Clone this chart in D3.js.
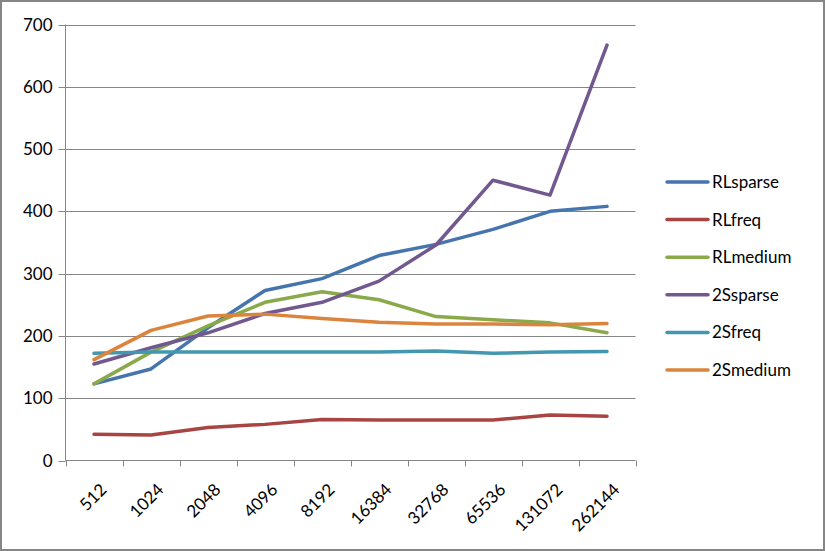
<!DOCTYPE html>
<html><head><meta charset="utf-8">
<script src="https://cdn.jsdelivr.net/npm/d3@7"></script>
<style>body{margin:0;background:#fff}svg{display:block}</style>
</head><body>
<svg id="c" width="825" height="551"></svg>
<script>
const categories = ["512","1024","2048","4096","8192","16384","32768","65536","131072","262144"];
const seriesNames = ["RLsparse","RLfreq","RLmedium","2Ssparse","2Sfreq","2Smedium"];
const RLsparse = [123,147,213,273,292,329,347,371,400,408];
const RLfreq   = [42,41,53,58,66,65,65,65,73,71];
const RLmedium = [123,174,216,254,271,258,231,226,221,205];
const Ssparse2 = [155,181,205,236,254,288,346,450,426,667];
const Sfreq2   = [172,174,174,174,174,174,176,172,174,175];
const Smedium2 = [162,209,232,235,228,222,219,219,218,220];
const yTicks = [0,100,200,300,400,500,600,700];
const colors = ["#4675AE","#A84442","#8AA94B","#71588F","#4198AF","#DB843D"];
const seriesValues = [RLsparse,RLfreq,RLmedium,Ssparse2,Sfreq2,Smedium2];

const svg = d3.select("#c");
const font = "Lato, 'Open Sans', sans-serif";
svg.append("rect").attr("x",1).attr("y",1).attr("width",823).attr("height",549)
  .attr("fill","#fff").attr("stroke","#868686").attr("stroke-width",2);

const L=65.5, R=635.5, T=24.5, B=460.5;
const x = d3.scaleBand().domain(categories).range([L,R]);
const y = d3.scaleLinear().domain([0,700]).range([B,T]);

// gridlines
svg.append("g").selectAll("line").data(yTicks.filter(d=>d>0)).join("line")
  .attr("x1",L).attr("x2",R).attr("y1",d=>Math.round(y(d))+0.5).attr("y2",d=>Math.round(y(d))+0.5)
  .attr("stroke","#868686").attr("stroke-width",1);

// y axis
const ya = svg.append("g").attr("transform",`translate(${L},0)`)
  .call(d3.axisLeft(y).tickValues(yTicks).tickSize(7).tickPadding(6).tickFormat(d3.format("d")));
ya.select(".domain").attr("stroke","#868686").attr("d",`M0,${T}V${B}`);
ya.selectAll(".tick line").attr("stroke","#868686");
ya.selectAll(".tick").attr("transform",d=>`translate(0,${Math.round(y(d))+0.5})`);
ya.selectAll("text").attr("font-family",font).attr("font-size",17).attr("fill","#000");

// x axis
const xa = svg.append("g").attr("transform",`translate(0,${B})`);
xa.append("line").attr("x1",L).attr("x2",R).attr("stroke","#868686");
const bounds = categories.map(c=>x(c)).concat([R]);
xa.selectAll("line.t").data(bounds).join("line").attr("class","t")
  .attr("x1",d=>Math.round(d)+0.5).attr("x2",d=>Math.round(d)+0.5).attr("y1",0).attr("y2",6).attr("stroke","#868686");
xa.selectAll("text").data(categories).join("text")
  .attr("transform",d=>`translate(${x(d)+x.bandwidth()/2+9.5},${26}) rotate(-45)`)
  .attr("text-anchor","end").attr("dy","0.35em")
  .attr("font-family",font).attr("font-size",17).attr("fill","#000").text(d=>d);

// lines
const line = d3.line().x((d,i)=>x(categories[i])+x.bandwidth()/2).y(d=>y(d));
svg.append("g").selectAll("path").data(seriesValues).join("path")
  .attr("d",line).attr("fill","none").attr("stroke",(d,i)=>colors[i])
  .attr("stroke-width",3.5).attr("stroke-linejoin","round").attr("stroke-linecap","round");

// legend
const lg = svg.append("g").selectAll("g").data(seriesNames).join("g")
  .attr("transform",(d,i)=>`translate(667,${182+i*37.6})`);
lg.append("line").attr("x1",0).attr("x2",41).attr("stroke",(d,i)=>colors[i]).attr("stroke-width",3.5).attr("stroke-linecap","round");
lg.append("text").attr("x",45).attr("dy","0.35em").attr("font-family",font).attr("font-size",17).attr("fill","#000").text(d=>d);
</script>
</body></html>
